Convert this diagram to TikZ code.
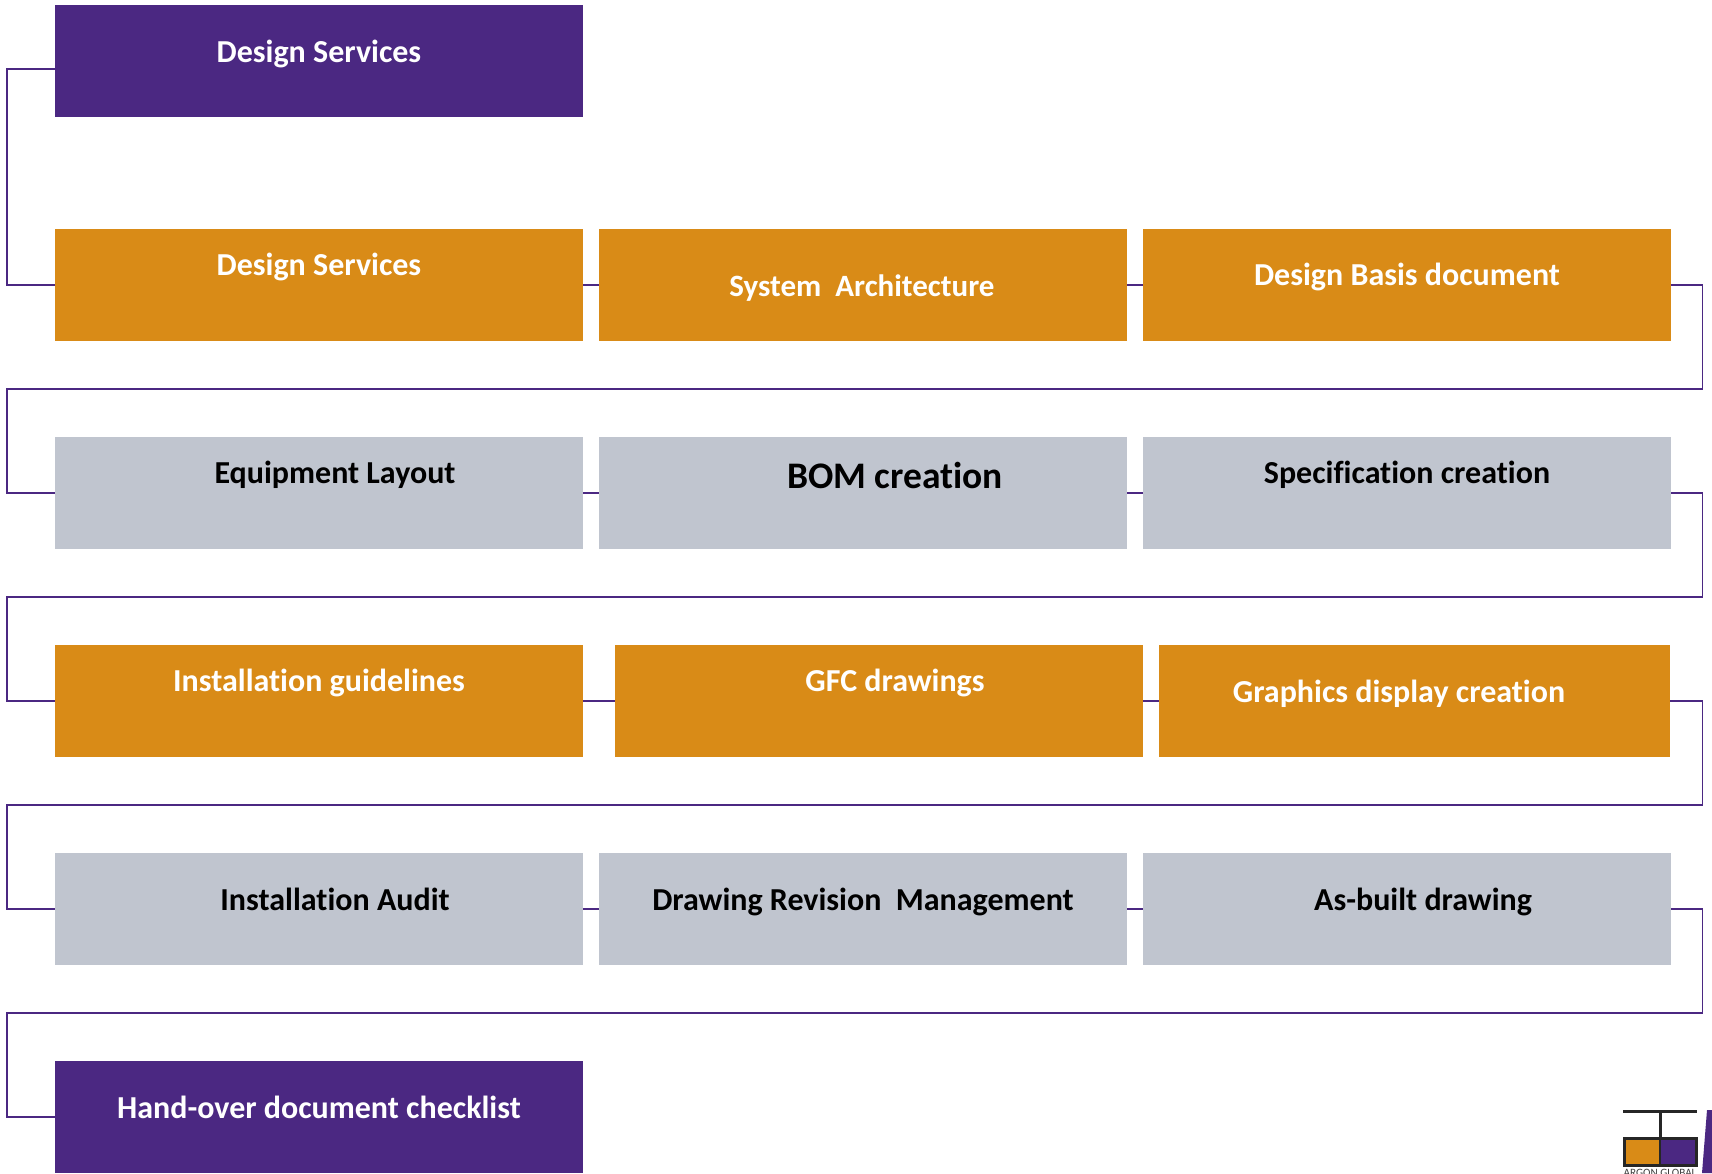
\documentclass[tikz,border=0pt]{standalone}
\usepackage{fontspec}
\setmainfont{Carlito}[Ligatures=CommonOff]
\definecolor{ppl}{HTML}{4B2882}
\definecolor{org}{HTML}{D98B17}
\definecolor{gry}{HTML}{C0C5CF}
\tikzset{
  boxn/.style={anchor=north west,minimum height=112pt,inner sep=0pt,outer sep=0pt,draw=none},
  wd/.style={minimum width=528pt},
  wdb/.style={minimum width=511pt},
  pbox/.style={boxn,wd,fill=ppl},
  obox/.style={boxn,fill=org},
  gbox/.style={boxn,fill=gry},
  lbl/.style={font=\bfseries\fontsize{32}{34}\selectfont,inner sep=0pt,text height=29pt,text depth=7pt},
  wl/.style={lbl,text=white},
  kl/.style={lbl,text=black},
  link/.style={draw=ppl,line width=1.7pt,line join=miter}
}
\begin{document}
\begin{tikzpicture}[x=1pt,y=-1pt]
\useasboundingbox (0,0) rectangle (1712,1173);
\coordinate (L) at (7,0);
\coordinate (R) at (1702.5,0);
\node[pbox] (a1) at (55,5) {};
\node[obox,wd] (b1) at (55,229) {};
\node[obox,wd] (b2) at (599,229) {};
\node[obox,wd] (b3) at (1143,229) {};
\node[gbox,wd] (c1) at (55,437) {};
\node[gbox,wd] (c2) at (599,437) {};
\node[gbox,wd] (c3) at (1143,437) {};
\node[obox,wd] (d1) at (55,645) {};
\node[obox,wd] (d2) at (615,645) {};
\node[obox,wdb] (d3) at (1159,645) {};
\node[gbox,wd] (e1) at (55,853) {};
\node[gbox,wd] (e2) at (599,853) {};
\node[gbox,wd] (e3) at (1143,853) {};
\node[pbox] (f1) at (55,1061) {};
\coordinate (a1s) at ([yshift=-8pt]a1.west);
\draw[link] (a1s) -- (a1s-|L) -- (b1.west-|L) -- (b1.west);
\draw[link] (b1) -- (b2);
\draw[link] (b2) -- (b3);
\coordinate (r1) at (0,389);
\draw[link] (b3.east) -- (b3.east-|R) -- (r1-|R) -- (r1-|L) -- (c1.west-|L) -- (c1.west);
\draw[link] (c1) -- (c2);
\draw[link] (c2) -- (c3);
\coordinate (r2) at (0,597);
\draw[link] (c3.east) -- (c3.east-|R) -- (r2-|R) -- (r2-|L) -- (d1.west-|L) -- (d1.west);
\draw[link] (d1) -- (d2);
\draw[link] (d2) -- (d3);
\coordinate (r3) at (0,805);
\draw[link] (d3.east) -- (d3.east-|R) -- (r3-|R) -- (r3-|L) -- (e1.west-|L) -- (e1.west);
\draw[link] (e1) -- (e2);
\draw[link] (e2) -- (e3);
\coordinate (r4) at (0,1013);
\draw[link] (e3.east) -- (e3.east-|R) -- (r4-|R) -- (r4-|L) -- (f1.west-|L) -- (f1.west);
% labels
\node[wl] (ta1) at (319,51) {Design Services};
\node[wl] (tb1) at (319,264) {Design Services};
\node[wl,font=\bfseries\fontsize{31}{33}\selectfont] (tb2) at (862,285) {System\ \ Architecture};
\node[wl] (tb3) at (1407,274) {Design Basis document};
\node[kl] (tc1) at (335,472) {Equipment Layout};
\node[kl,font=\bfseries\fontsize{37.5}{40}\selectfont] (tc2) at (895,477) {BOM creation};
\node[kl] (tc3) at (1407,472) {Specification creation};
\node[wl] (td1) at (319,680) {Installation guidelines};
\node[wl] (td2) at (895,680) {GFC drawings};
\node[wl] (td3) at (1399,691) {Graphics display creation};
\node[kl] (te1) at (335,899) {Installation Audit};
\node[kl] (te2) at (863,899) {Drawing Revision\ \ Management};
\node[kl] (te3) at (1423,899) {As-built drawing};
\node[wl] (tf1) at (319,1107) {Hand-over document checklist};
% logo
\begin{scope}
\clip (0,0) rectangle (1712,1173);
\fill[ppl] (1707,1110) -- (1712,1110) -- (1712,1173) -- (1702,1173) -- cycle;
\fill[org] (1624,1138) rectangle (1660,1165);
\fill[ppl] (1660,1138) rectangle (1696,1165);
\draw[black!85,line width=3pt] (1624.5,1138) rectangle (1696,1165);
\draw[black!85,line width=2pt] (1660,1138) -- (1660,1165);
\draw[black!85,line width=3pt] (1623,1111) -- (1697,1111);
\draw[black!85,line width=3pt] (1660,1111) -- (1660,1138);
\node[font=\fontsize{11.2}{12}\selectfont,text=black!75,inner sep=0pt,anchor=north] (logo) at (1660,1169.5) {ARGON GLOBAL};
\end{scope}
\end{tikzpicture}
\end{document}
